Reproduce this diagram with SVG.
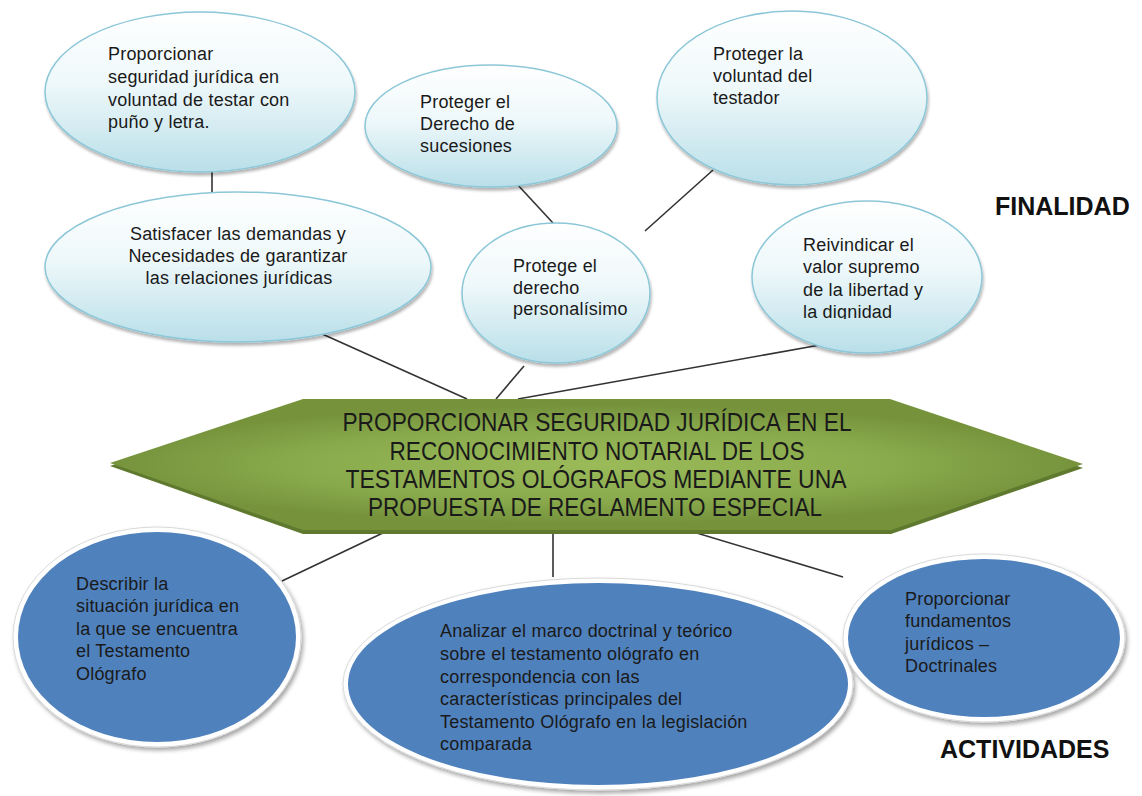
<svg xmlns="http://www.w3.org/2000/svg" width="1142" height="796" viewBox="0 0 1142 796">
<style>
  .conn { stroke: #333333; stroke-width: 1.6; fill: none; }
  .light { fill: url(#lightGrad); stroke: #8cc7d8; stroke-width: 1.5; filter: url(#softShadow); }
  .blueOuter { fill: #ffffff; stroke: #d9d9d9; stroke-width: 1; filter: url(#blueShadow); }
  .blueInner { fill: #4f81bd; }
  .t { font-family: "Liberation Sans", Arial, sans-serif; font-size: 18px; letter-spacing: 0.2px; fill: #1a1a1a; }
  .hex { font-family: "Liberation Sans", Arial, sans-serif; font-size: 25px; fill: #1a1a1a; }
  .title { font-family: "Liberation Sans", Arial, sans-serif; font-size: 25px; font-weight: bold; fill: #111111; }
</style>
<defs>
  <linearGradient id="lightGrad" x1="0" y1="0" x2="0" y2="1">
    <stop offset="0" stop-color="#ffffff"/>
    <stop offset="0.45" stop-color="#eef8fa"/>
    <stop offset="1" stop-color="#b9dfe9"/>
  </linearGradient>
  <radialGradient id="hexGrad" cx="0.5" cy="0.5" r="0.5" fx="0.5" fy="0.5" gradientTransform="translate(0.5 0.5) scale(1 0.9) translate(-0.5 -0.5)">
    <stop offset="0" stop-color="#9bbb59"/>
    <stop offset="0.6" stop-color="#8aab4d"/>
    <stop offset="1" stop-color="#76933c"/>
  </radialGradient>
  <filter id="softShadow" x="-10%" y="-10%" width="120%" height="125%">
    <feGaussianBlur in="SourceAlpha" stdDeviation="1.5"/>
    <feOffset dx="1" dy="2.5" result="b"/>
    <feComponentTransfer><feFuncA type="linear" slope="0.3"/></feComponentTransfer>
    <feMerge><feMergeNode/><feMergeNode in="SourceGraphic"/></feMerge>
  </filter>
  <filter id="blueShadow" x="-10%" y="-10%" width="120%" height="125%">
    <feGaussianBlur in="SourceAlpha" stdDeviation="2"/>
    <feOffset dx="2" dy="3" result="b"/>
    <feComponentTransfer><feFuncA type="linear" slope="0.35"/></feComponentTransfer>
    <feMerge><feMergeNode/><feMergeNode in="SourceGraphic"/></feMerge>
  </filter>
  <clipPath id="clipDignidad"><rect x="790" y="220" width="200" height="99"/></clipPath>
  <clipPath id="clipComparada"><rect x="430" y="610" width="360" height="141"/></clipPath>
</defs>

<rect width="1142" height="796" fill="#ffffff"/>

<g id="connectors">
  <line class="conn" x1="212" y1="172" x2="212" y2="194"/>
  <line class="conn" x1="320" y1="333" x2="467" y2="399"/>
  <line class="conn" x1="516" y1="183" x2="553" y2="223"/>
  <line class="conn" x1="645" y1="231" x2="713" y2="170"/>
  <line class="conn" x1="524" y1="366" x2="496" y2="399"/>
  <line class="conn" x1="820" y1="345" x2="518" y2="399"/>
  <line class="conn" x1="387" y1="531" x2="282" y2="581"/>
  <line class="conn" x1="553" y1="531" x2="553" y2="577"/>
  <line class="conn" x1="690" y1="531" x2="843" y2="577"/>
</g>

<g id="node-seguridad-puno">
  <ellipse class="light" cx="200" cy="92" rx="155" ry="80"/>
  <text class="t" x="108"><tspan x="108" y="60">Proporcionar</tspan><tspan x="108" y="83">seguridad jurídica en</tspan><tspan x="108" y="106">voluntad de testar con</tspan><tspan x="108" y="128">puño y letra.</tspan></text>
</g>

<g id="node-satisfacer">
  <ellipse class="light" cx="238" cy="267" rx="193" ry="75"/>
  <text class="t" text-anchor="middle"><tspan x="238" y="240">Satisfacer las demandas y</tspan><tspan x="238" y="262">Necesidades de garantizar</tspan><tspan x="239" y="284">las relaciones jurídicas</tspan></text>
</g>

<g id="node-sucesiones">
  <ellipse class="light" cx="491" cy="126" rx="126" ry="61"/>
  <text class="t"><tspan x="420" y="108">Proteger el</tspan><tspan x="420" y="130">Derecho de</tspan><tspan x="420" y="152">sucesiones</tspan></text>
</g>

<g id="node-personalisimo">
  <ellipse class="light" cx="556" cy="293" rx="94" ry="70"/>
  <text class="t"><tspan x="513" y="272">Protege el</tspan><tspan x="513" y="294">derecho</tspan><tspan x="513" y="315">personalísimo</tspan></text>
</g>

<g id="node-voluntad">
  <ellipse class="light" cx="792" cy="98" rx="135" ry="87"/>
  <text class="t"><tspan x="713" y="60">Proteger la</tspan><tspan x="713" y="82">voluntad del</tspan><tspan x="713" y="104">testador</tspan></text>
</g>

<g id="node-reivindicar">
  <ellipse class="light" cx="867" cy="277" rx="115" ry="76"/>
  <text class="t" clip-path="url(#clipDignidad)"><tspan x="803" y="251">Reivindicar el</tspan><tspan x="803" y="273">valor supremo</tspan><tspan x="803" y="296">de la libertad y</tspan><tspan x="803" y="318">la dignidad</tspan></text>
</g>

<text id="label-finalidad" class="title" x="995" y="215">FINALIDAD</text>

<g id="node-central">
  <polygon points="110,466 303,402 891,402 1083,468 891,534 303,534" fill="#5f7a2e"/>
  <polygon points="110,463 303,399 890,399 1083,464 891,530 303,530" fill="url(#hexGrad)"/>
  <text class="hex" text-anchor="middle"><tspan x="597" y="431" textLength="509" lengthAdjust="spacingAndGlyphs">PROPORCIONAR  SEGURIDAD JURÍDICA  EN EL</tspan></text>
  <text class="hex" text-anchor="middle"><tspan x="597" y="460" textLength="415" lengthAdjust="spacingAndGlyphs">RECONOCIMIENTO  NOTARIAL  DE LOS</tspan></text>
  <text class="hex" text-anchor="middle"><tspan x="596" y="488" textLength="501" lengthAdjust="spacingAndGlyphs">TESTAMENTOS  OLÓGRAFOS  MEDIANTE  UNA</tspan></text>
  <text class="hex" text-anchor="middle"><tspan x="595" y="516" textLength="454" lengthAdjust="spacingAndGlyphs">PROPUESTA  DE REGLAMENTO  ESPECIAL</tspan></text>
</g>

<g id="node-describir">
  <ellipse class="blueOuter" cx="157" cy="637" rx="144" ry="110"/>
  <ellipse class="blueInner" cx="157" cy="637" rx="139" ry="105"/>
  <text class="t"><tspan x="76" y="590">Describir la</tspan><tspan x="76" y="612">situación jurídica en</tspan><tspan x="76" y="635">la que se encuentra</tspan><tspan x="76" y="657">el Testamento</tspan><tspan x="76" y="680">Ológrafo</tspan></text>
</g>

<g id="node-analizar">
  <ellipse class="blueOuter" cx="598" cy="684" rx="255" ry="106"/>
  <ellipse class="blueInner" cx="598" cy="684" rx="250" ry="101"/>
  <text class="t" clip-path="url(#clipComparada)"><tspan x="440" y="637">Analizar el marco doctrinal y teórico</tspan><tspan x="440" y="660">sobre el testamento ológrafo en</tspan><tspan x="440" y="683">correspondencia con las</tspan><tspan x="440" y="705">características principales del</tspan><tspan x="440" y="728">Testamento Ológrafo en la legislación</tspan><tspan x="440" y="750">comparada</tspan></text>
</g>

<g id="node-fundamentos">
  <ellipse class="blueOuter" cx="984" cy="638" rx="141" ry="84"/>
  <ellipse class="blueInner" cx="984" cy="638" rx="136" ry="79"/>
  <text class="t"><tspan x="905" y="605">Proporcionar</tspan><tspan x="905" y="627">fundamentos</tspan><tspan x="905" y="650">jurídicos –</tspan><tspan x="905" y="672">Doctrinales</tspan></text>
</g>

<text id="label-actividades" class="title" x="940" y="758">ACTIVIDADES</text>
</svg>
